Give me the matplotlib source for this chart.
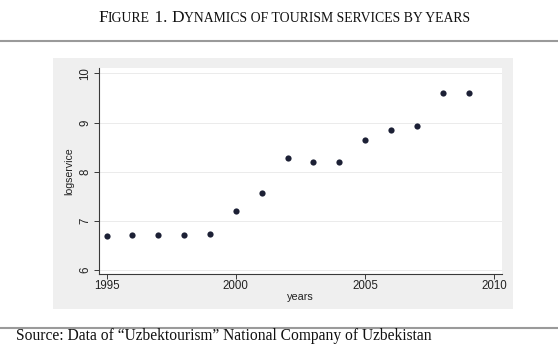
import matplotlib
matplotlib.use('Agg')
import matplotlib.pyplot as plt
from matplotlib.patches import Rectangle
from matplotlib.lines import Line2D

years = [1995, 1996, 1997, 1998, 1999, 2000, 2001, 2002, 2003, 2004, 2005, 2006, 2007, 2008, 2009]
logservice = [6.70, 6.71, 6.71, 6.72, 6.73, 7.21, 7.56, 8.27, 8.19, 8.20, 8.65, 8.85, 8.93, 9.60, 9.61]
xticks = [1995, 2000, 2005, 2010]
yticks = [6, 7, 8, 9, 10]
title_pieces = [("F", "big"), ("IGURE", "small"), (" 1. ", "big"), ("D", "big"),
                ("YNAMICS OF TOURISM SERVICES BY YEARS", "small")]
source_text = "Source: Data of \u201cUzbektourism\u201d National Company of Uzbekistan"

W, H = 558, 354
fig = plt.figure(figsize=(W / 100, H / 100), dpi=100)
fig.patch.set_facecolor('white')


def fx(px):
    return px / W


def fy(py):
    return 1 - py / H


# gray graph region
fig.add_artist(Rectangle((fx(53), fy(309)), fx(513) - fx(53), fy(58) - fy(309),
                         transform=fig.transFigure, facecolor='#efefef',
                         edgecolor='none', zorder=0))

# rules
fig.add_artist(Line2D([0, 1], [fy(40.5), fy(40.5)], transform=fig.transFigure,
                      color='#9a9a9a', lw=1.5))
fig.add_artist(Line2D([0, 1], [fy(328), fy(328)], transform=fig.transFigure,
                      color='#9a9a9a', lw=1.5))

ax = fig.add_axes([fx(99), fy(274), fx(502) - fx(99), fy(67.5) - fy(274)])
ax.set_facecolor('white')
ax.set_xlim(1994.71, 2010.29)
ax.set_ylim(5.918, 10.12)
ax.scatter(years, logservice, s=20, color='#1c2035', zorder=3, linewidths=0)

for s in ['top', 'right']:
    ax.spines[s].set_visible(False)
for s in ['left', 'bottom']:
    ax.spines[s].set_color('#3a3a3a')
    ax.spines[s].set_linewidth(0.8)

ax.set_xticks(xticks)
ax.set_yticks(yticks)
ax.set_xticklabels([str(t) for t in xticks])
ax.set_yticklabels([str(t) for t in yticks])
ax.tick_params(direction='out', length=3.5, width=0.7, color='#3a3a3a',
               labelsize=8.3, labelcolor='#222222', pad=1)
ax.tick_params(axis='y', labelrotation=90, pad=2)
for lab in ax.get_yticklabels():
    lab.set_va('center')
    lab.set_family('Liberation Sans')
for lab in ax.get_xticklabels():
    lab.set_family('Liberation Sans')
ax.yaxis.grid(True, color='#ebebeb', lw=0.7)
ax.set_axisbelow(True)
ax.set_xlabel('years', family='Liberation Sans', fontsize=7.8, color='#222222', labelpad=0)
ax.set_ylabel('logservice', family='Liberation Sans', fontsize=7.6, color='#222222', labelpad=4)

# --- title in small caps, fitted to width ---
fig.canvas.draw()
renderer = fig.canvas.get_renderer()


def layout_title(big, small, x0_px, baseline_px, draw=True):
    texts = []
    x = x0_px
    for txt, kind in title_pieces:
        size = big if kind == "big" else small
        t = fig.text(fx(x), fy(baseline_px), txt, family='Liberation Serif',
                     fontsize=size, va='baseline', ha='left', color='#111111')
        w = t.get_window_extent(renderer).width
        texts.append(t)
        x += w
    total = x - x0_px
    if not draw:
        for t in texts:
            t.remove()
    return total


target_w = 470 - 98
big0, small0 = 8.7, 6.9
w0 = layout_title(big0, small0, 0, -100, draw=False)
k = target_w / w0
layout_title(big0 * k, small0 * k, 98, 21.5)

# source text fitted to width
t = fig.text(0, 0, source_text, family='Liberation Serif', fontsize=8)
w = t.get_window_extent(renderer).width
t.remove()
fig.text(fx(16), fy(339.5), source_text, family='Liberation Serif',
         fontsize=8 * (432 - 16) / w, va='baseline', ha='left', color='#111111')

fig.savefig('out.png', dpi=100)
